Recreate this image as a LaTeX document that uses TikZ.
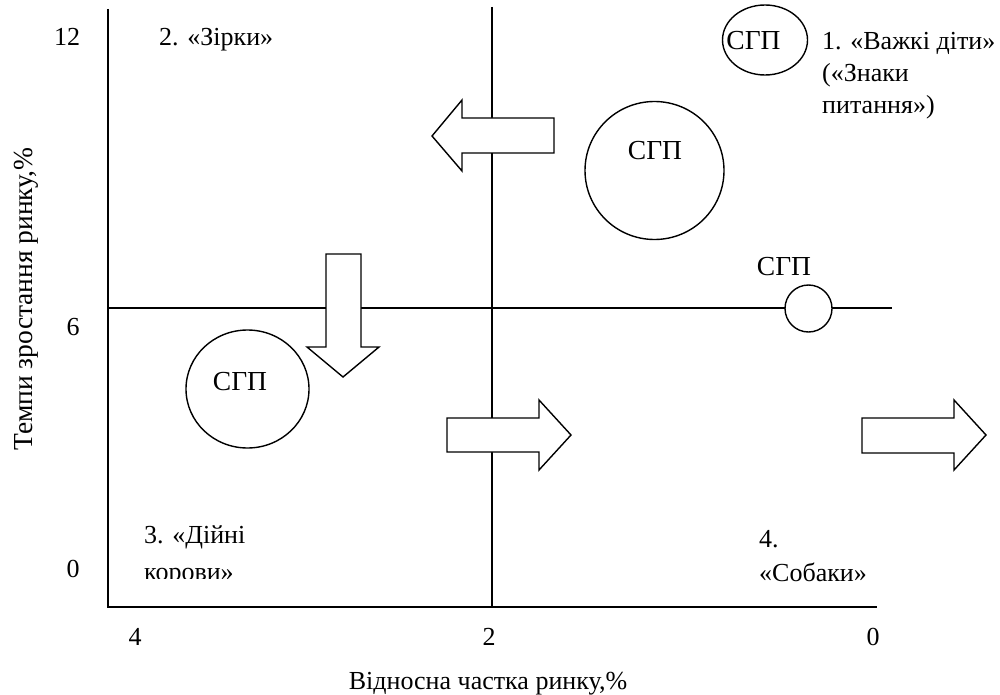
\documentclass[tikz,border=0pt]{standalone}
\usepackage{fontspec}
\setmainfont{Liberation Serif}
\usetikzlibrary{shapes.geometric}
\begin{document}
\begin{tikzpicture}[x=1pt,y=-1pt,
  ax/.style={line width=1.6pt},
  shp/.style={draw, line width=1.4pt, fill=white},
  blob/.style={shp, ellipse, inner sep=0pt},
  lbl/.style={font=\fontsize{26}{32}\selectfont, inner sep=0pt},
  sgp/.style={font=\fontsize{27.5}{32}\selectfont, inner sep=0pt}]
\useasboundingbox (0,0) rectangle (1000,695);
% axes and quadrant lines
\coordinate (lt) at (108,9);
\coordinate (lb) at (108,607);
\coordinate (br) at (877,607);
\coordinate (mt) at (492,7);
\coordinate (mb) at (492,607);
\coordinate (hl) at (108,308);
\coordinate (hr) at (892,308);
\draw[ax] (lt) -- (lb) -- (br);
\draw[ax] (mt) -- (mb);
\draw[ax] (hl) -- (hr);
% circles
\node[blob, minimum width=85, minimum height=70] (c1) at (765,40) {};
\node[blob, minimum width=139, minimum height=138] (c2) at (654.5,170.5) {};
\node[blob, minimum width=47, minimum height=47] (c3) at (808.5,308.5) {};
\node[blob, minimum width=123, minimum height=118] (c4) at (247.5,389) {};
\node[sgp, anchor=base] (t1) at (753.5,50) {СГП};
\node[sgp, anchor=base] (t2) at (655,160) {СГП};
\node[sgp, anchor=base] (t3) at (784,275) {СГП};
\node[sgp, anchor=base] (t4) at (240,390) {СГП};
% arrows
\draw[shp] (432,136) -- (462,100) -- (462,118) -- (554,118) -- (554,153) -- (462,153) -- (462,171) -- cycle;
\draw[shp] (343,377) -- (307,347) -- (326,347) -- (326,254) -- (361,254) -- (361,347) -- (379,347) -- cycle;
\draw[shp] (571,435) -- (539,400) -- (539,418) -- (447,418) -- (447,452) -- (539,452) -- (539,470) -- cycle;
\draw[shp] (986,435) -- (954,400) -- (954,418) -- (862,418) -- (862,453) -- (954,453) -- (954,470) -- cycle;
% quadrant labels
\node[lbl, anchor=base west] (q2) at (159,46) {2. «Зірки»};
\node[lbl, anchor=base west] (q1a) at (822,50) {1. «Важкі діти»};
\node[lbl, anchor=base west] (q1b) at (822,82) {(«Знаки};
\node[lbl, anchor=base west] (q1c) at (822,114) {питання»)};
\node[lbl, anchor=base west] (q3a) at (144,543) {3. «Дійні};
\begin{scope}
\clip (100,540) rectangle (400,578);
\node[lbl, anchor=base west] (q3b) at (144,580) {корови»};
\end{scope}
\node[lbl, anchor=base west] (q4a) at (759,547) {4.};
\node[lbl, anchor=base west] (q4b) at (759,581) {«Собаки»};
% tick labels
\node[lbl, anchor=base] (y12) at (67,46) {12};
\node[lbl, anchor=base] (y6) at (73,335) {6};
\node[lbl, anchor=base] (y0) at (73,577) {0};
\node[lbl, anchor=base] (x4) at (135,645) {4};
\node[lbl, anchor=base] (x2) at (489,645) {2};
\node[lbl, anchor=base] (x0) at (873,645) {0};
% axis titles
\node[lbl, anchor=base] (xt) at (488,689) {Відносна частка ринку,\%};
\node[sgp, anchor=base, rotate=90] (yt) at (32,299) {Темпи зростання ринку,\%};
\end{tikzpicture}
\end{document}
